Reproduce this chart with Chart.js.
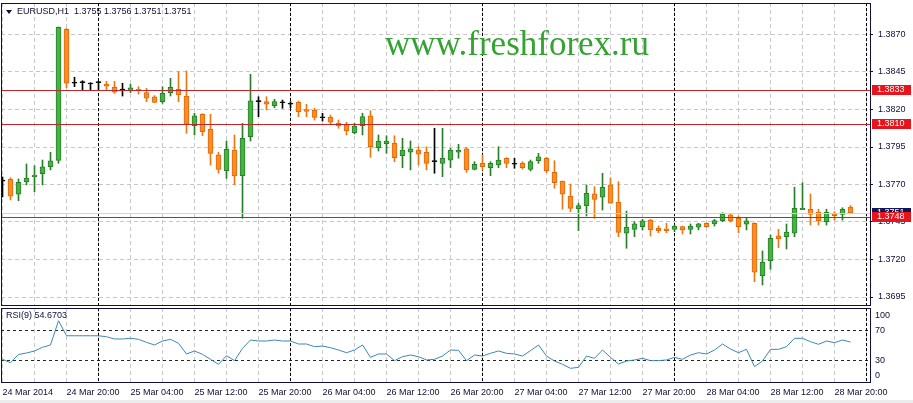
<!DOCTYPE html>
<html>
<head>
<meta charset="utf-8">
<title>EURUSD H1</title>
<script src="https://cdn.jsdelivr.net/npm/chart.js@4.4.1/dist/chart.umd.min.js"></script>
<style>
  html, body { margin: 0; padding: 0; background: #fff; overflow: hidden; }
  #wrap { position: relative; width: 913px; height: 403px; }
  #price { position: absolute; left: 0; top: 0; width: 913px; height: 308px; z-index: 1; }
  #rsi { position: absolute; left: 0; top: 306px; width: 913px; height: 97px; z-index: 2; }
  #foot { position: absolute; left: 0; top: 400px; width: 913px; height: 3px; background: #ececec; z-index: 0; }
</style>
</head>
<body>
<div id="wrap">
  <canvas id="price" width="913" height="308"></canvas>
  <canvas id="rsi" width="913" height="97"></canvas>
  <div id="foot"></div>
</div>
<script>
// hourly bars, 24 Mar 12:00 .. 28 Mar 22:00
const opens = [1.37723, 1.37735, 1.37635, 1.37719, 1.37752, 1.37772, 1.37819, 1.37861, 1.38735, 1.38375,
  1.38379, 1.38370, 1.38379, 1.38370, 1.38348, 1.38330, 1.38325, 1.38335, 1.38312, 1.38285,
  1.38252, 1.38312, 1.38335, 1.38290, 1.38092, 1.38168, 1.38068, 1.37897, 1.37792, 1.37930,
  1.37759, 1.38019, 1.38252, 1.38252, 1.38225, 1.38245, 1.38235, 1.38248, 1.38199, 1.38195,
  1.38145, 1.38148, 1.38108, 1.38097, 1.38045, 1.38092, 1.38157, 1.37945, 1.37972, 1.37975,
  1.37892, 1.37915, 1.37930, 1.37915, 1.37852, 1.37841, 1.37863, 1.37915, 1.37937, 1.37801,
  1.37841, 1.37812, 1.37830, 1.37875, 1.37835, 1.37841, 1.37801, 1.37859, 1.37875, 1.37781,
  1.37723, 1.37623, 1.37537, 1.37559, 1.37637, 1.37615, 1.37697, 1.37583, 1.37375, 1.37401,
  1.37419, 1.37463, 1.37408, 1.37405, 1.37401, 1.37419, 1.37401, 1.37415, 1.37441, 1.37437,
  1.37459, 1.37497, 1.37475, 1.37435, 1.37441, 1.37092, 1.37192, 1.37357, 1.37352, 1.37375,
  1.37532, 1.37535, 1.37515, 1.37452, 1.37505, 1.37501, 1.37550];
const highs = [1.37750, 1.37745, 1.37737, 1.37837, 1.37825, 1.37863, 1.37915, 1.38750, 1.38740, 1.38415,
  1.38392, 1.38379, 1.38388, 1.38388, 1.38388, 1.38375, 1.38368, 1.38352, 1.38341, 1.38293,
  1.38352, 1.38408, 1.38452, 1.38457, 1.38175, 1.38172, 1.38168, 1.37915, 1.37990, 1.38030,
  1.38108, 1.38435, 1.38285, 1.38285, 1.38268, 1.38263, 1.38252, 1.38257, 1.38235, 1.38208,
  1.38175, 1.38163, 1.38130, 1.38115, 1.38108, 1.38175, 1.38192, 1.38030, 1.38025, 1.38025,
  1.38008, 1.37990, 1.37952, 1.37952, 1.38075, 1.38075, 1.37941, 1.37968, 1.37948, 1.37852,
  1.37897, 1.37852, 1.37952, 1.37879, 1.37875, 1.37852, 1.37863, 1.37908, 1.37881, 1.37859,
  1.37723, 1.37703, 1.37575, 1.37697, 1.37685, 1.37775, 1.37745, 1.37719, 1.37523, 1.37452,
  1.37468, 1.37468, 1.37423, 1.37441, 1.37430, 1.37423, 1.37437, 1.37441, 1.37445, 1.37468,
  1.37512, 1.37503, 1.37490, 1.37475, 1.37445, 1.37257, 1.37363, 1.37401, 1.37437, 1.37681,
  1.37712, 1.37637, 1.37535, 1.37535, 1.37519, 1.37545, 1.37560];
const lows = [1.37617, 1.37597, 1.37592, 1.37697, 1.37652, 1.37697, 1.37797, 1.37841, 1.38345, 1.38352,
  1.38330, 1.38330, 1.38330, 1.38330, 1.38308, 1.38290, 1.38312, 1.38303, 1.38252, 1.38245,
  1.38241, 1.38290, 1.38252, 1.38041, 1.38030, 1.38025, 1.37830, 1.37775, 1.37741, 1.37697,
  1.37475, 1.37990, 1.38152, 1.38197, 1.38212, 1.38208, 1.38212, 1.38152, 1.38152, 1.38130,
  1.38123, 1.38101, 1.38075, 1.38030, 1.38037, 1.38030, 1.37881, 1.37923, 1.37908, 1.37852,
  1.37812, 1.37797, 1.37830, 1.37797, 1.37775, 1.37752, 1.37812, 1.37875, 1.37781, 1.37797,
  1.37797, 1.37759, 1.37812, 1.37812, 1.37808, 1.37803, 1.37790, 1.37841, 1.37779, 1.37675,
  1.37535, 1.37519, 1.37392, 1.37490, 1.37475, 1.37530, 1.37575, 1.37352, 1.37275, 1.37352,
  1.37397, 1.37357, 1.37379, 1.37379, 1.37385, 1.37370, 1.37370, 1.37397, 1.37415, 1.37423,
  1.37452, 1.37450, 1.37379, 1.37397, 1.37052, 1.37030, 1.37135, 1.37279, 1.37270, 1.37352,
  1.37532, 1.37430, 1.37430, 1.37430, 1.37463, 1.37463, 1.37510];
const closes = [1.37723, 1.37623, 1.37715, 1.37743, 1.37763, 1.37817, 1.37857, 1.38748, 1.38375, 1.38375,
  1.38379, 1.38370, 1.38379, 1.38355, 1.38315, 1.38330, 1.38345, 1.38325, 1.38275, 1.38248,
  1.38308, 1.38348, 1.38297, 1.38103, 1.38157, 1.38052, 1.37908, 1.37801, 1.37935, 1.37757,
  1.38008, 1.38257, 1.38252, 1.38235, 1.38252, 1.38245, 1.38235, 1.38185, 1.38188, 1.38148,
  1.38145, 1.38115, 1.38090, 1.38057, 1.38090, 1.38152, 1.37952, 1.37990, 1.37990, 1.37879,
  1.37930, 1.37937, 1.37903, 1.37841, 1.37852, 1.37875, 1.37930, 1.37930, 1.37797, 1.37835,
  1.37819, 1.37841, 1.37863, 1.37841, 1.37835, 1.37812, 1.37852, 1.37885, 1.37792, 1.37712,
  1.37635, 1.37541, 1.37559, 1.37641, 1.37601, 1.37681, 1.37575, 1.37381, 1.37415, 1.37437,
  1.37457, 1.37397, 1.37392, 1.37392, 1.37423, 1.37397, 1.37423, 1.37437, 1.37419, 1.37459,
  1.37503, 1.37459, 1.37419, 1.37457, 1.37115, 1.37181, 1.37341, 1.37339, 1.37383, 1.37541,
  1.37541, 1.37501, 1.37459, 1.37515, 1.37492, 1.37535, 1.37510];
const rsiValues = [31.6, 27, 38, 40, 42.7, 47.6, 50.7, 83, 63, 63,
  63, 63, 63, 61.7, 58.7, 58.7, 59.6, 58.2, 54.2, 50.7,
  56, 58.2, 52.9, 38.7, 42.7, 38.2, 31.6, 24.9, 36.4, 29.8,
  46.2, 57.3, 56, 56, 57.3, 56, 56, 52, 52, 48.4,
  49.3, 47.1, 44, 40.4, 44, 50.7, 34.2, 38.7, 38.7, 29.8,
  35.1, 37.3, 35.1, 30.7, 31.6, 36, 44, 43.6, 29.8, 37.3,
  36, 39.6, 42.7, 39.6, 38.7, 36, 43.1, 50.7, 36, 29.3,
  24.9, 19.6, 20.9, 36, 32.9, 44, 34.2, 25.3, 29.3, 30.7,
  32.9, 29.8, 29.8, 30.7, 34.2, 31.6, 37.3, 40.4, 38.7, 44,
  52, 45.3, 40.4, 44.9, 21.8, 29.3, 44.9, 44.9, 48.4, 59.6,
  59.6, 55.1, 51.6, 56, 53.8, 57.3, 54.6703];

const timeLabels = ['24 Mar 2014', '24 Mar 20:00', '25 Mar 04:00', '25 Mar 12:00', '25 Mar 20:00',
  '26 Mar 04:00', '26 Mar 12:00', '26 Mar 20:00', '27 Mar 04:00', '27 Mar 12:00', '27 Mar 20:00',
  '28 Mar 04:00', '28 Mar 12:00', '28 Mar 20:00'];
const priceTicks = [1.3695, 1.3720, 1.3745, 1.3770, 1.3795, 1.3820, 1.3845, 1.3870];
const rsiTicks = [0, 30, 70, 100];
const rsiLevels = [30, 70];
const levels = [1.3833, 1.3810, 1.3748];
const bid = 1.3751;
const daySplits = [12, 36, 60, 84, 108];
const gridSteps = [];
for (let v = 0; v <= 108; v += 4) gridSteps.push(v);

const xMin = -0.1875, xMax = 108.4375;
const priceMin = 1.3689, priceMax = 1.3891;
// MT4 draws the end labels of the RSI scale inside the window
const rsiInset = 9.5;
const rsiPos = v => v === 100 ? 100 - rsiInset : (v === 0 ? rsiInset : v);
const rsiText = p => String(rsiTicks.find(v => rsiPos(v) === p));

const bullFill = '#45b542', bullLine = '#2b7f2b';
const bearFill = '#ff8c22', bearLine = '#dc6a0c';
const gridGray = '#c8c8c8';
const ink = '#0e0e38';

Chart.defaults.font.family = "'Liberation Sans', Arial, sans-serif";
Chart.defaults.font.size = 9;
Chart.defaults.color = ink;

const idx = opens.map((_, i) => i);
const dir = i => closes[i] > opens[i] ? 1 : (closes[i] < opens[i] ? -1 : 0);
const bodyFill = idx.map(i => dir(i) > 0 ? bullFill : dir(i) < 0 ? bearFill : '#000');
const bodyLine = idx.map(i => dir(i) > 0 ? bullLine : dir(i) < 0 ? bearLine : '#000');
const wickColor = idx.map(i => dir(i) > 0 ? bullLine : dir(i) < 0 ? '#e8780f' : '#000');

// chart area is fixed by layout padding only
const noPad = s => { s.paddingTop = 0; s.paddingBottom = 0; s.paddingLeft = 0; s.paddingRight = 0; };

const separators = {
  id: 'separators',
  beforeDatasetsDraw(chart) {
    const {ctx, chartArea: a, scales: {x}} = chart;
    ctx.save();
    ctx.strokeStyle = '#000';
    ctx.lineWidth = 1;
    ctx.setLineDash([3, 2]);
    daySplits.forEach(v => {
      const px = Math.floor(x.getPixelForValue(v)) + 0.5;
      ctx.beginPath();
      ctx.moveTo(px, a.top);
      ctx.lineTo(px, a.bottom);
      ctx.stroke();
    });
    ctx.restore();
  },
  afterDraw(chart) {
    const {ctx, chartArea: a} = chart;
    ctx.save();
    ctx.strokeStyle = '#101040';
    ctx.lineWidth = 1;
    ctx.strokeRect(Math.floor(a.left) + 0.5, Math.floor(a.top) + 0.5,
      Math.round(a.right - a.left), Math.round(a.bottom - a.top) - 1);
    ctx.restore();
  }
};

function tag(ctx, y, text, fill) {
  const yy = Math.round(y);
  ctx.fillStyle = fill;
  ctx.fillRect(872, yy - 5, 39, 10);
  ctx.fillStyle = '#fff';
  ctx.textBaseline = 'middle';
  ctx.textAlign = 'left';
  ctx.fillText(text, 877, yy);
}

const overlay = {
  id: 'overlay',
  beforeDatasetsDraw(chart) {
    const {ctx} = chart;
    ctx.save();
    ctx.font = "35px 'Liberation Serif', serif";
    ctx.fillStyle = '#34a334';
    ctx.textBaseline = 'alphabetic';
    ctx.fillText('www.freshforex.ru', 385, 55);
    ctx.restore();
  },
  afterDatasetsDraw(chart) {
    const {ctx, chartArea: a, scales: {y}} = chart;
    ctx.save();
    ctx.lineWidth = 1;
    ctx.strokeStyle = '#d4d4d4';
    let py = Math.floor(y.getPixelForValue(bid)) + 0.5;
    ctx.beginPath(); ctx.moveTo(a.left, py); ctx.lineTo(a.right, py); ctx.stroke();
    ctx.strokeStyle = '#c0262b';
    levels.forEach(v => {
      py = Math.floor(y.getPixelForValue(v)) + 0.5;
      ctx.beginPath(); ctx.moveTo(a.left, py); ctx.lineTo(a.right, py); ctx.stroke();
    });
    ctx.restore();
  },
  afterDraw(chart) {
    const {ctx, scales: {y}} = chart;
    ctx.save();
    ctx.font = "9px 'Liberation Sans', Arial, sans-serif";
    tag(ctx, y.getPixelForValue(bid), bid.toFixed(4), '#14145a');
    levels.forEach(v => tag(ctx, y.getPixelForValue(v), v.toFixed(4), '#e8141c'));
    // header
    ctx.fillStyle = ink;
    ctx.beginPath();
    ctx.moveTo(6, 10); ctx.lineTo(12, 10); ctx.lineTo(9, 14); ctx.closePath();
    ctx.fill();
    ctx.textBaseline = 'middle';
    ctx.fillText('EURUSD,H1  ' + [opens[106], highs[106], lows[106], closes[106]].map(v => v.toFixed(4)).join(' '), 17, 12);
    ctx.restore();
  }
};

new Chart(document.getElementById('price'), {
  type: 'bar',
  data: {
    datasets: [{
      label: 'body',
      order: 0,
      data: idx.map(i => ({x: i, y: [opens[i], closes[i]]})),
      backgroundColor: bodyFill,
      borderColor: bodyLine,
      borderWidth: 1,
      borderSkipped: false,
      barThickness: 5,
      grouped: false,
      minBarLength: 1
    }, {
      label: 'wick',
      order: 1,
      data: idx.map(i => ({x: i, y: [lows[i], highs[i]]})),
      backgroundColor: wickColor,
      borderWidth: 0,
      barThickness: 1,
      grouped: false
    }]
  },
  options: {
    responsive: false,
    devicePixelRatio: 1,
    animation: false,
    layout: { padding: { left: 1, top: 3, right: 0, bottom: 2 } },
    plugins: { legend: { display: false }, tooltip: { enabled: false } },
    scales: {
      x: {
        type: 'linear', min: xMin, max: xMax, offset: false,
        afterBuildTicks: s => { s.ticks = gridSteps.map(v => ({value: v})); },
        afterFit: s => { s.height = 0; noPad(s); },
        ticks: { display: false },
        grid: { color: gridGray, drawTicks: false, offset: false },
        border: { display: false, dash: [4, 3] }
      },
      y: {
        position: 'right', min: priceMin, max: priceMax,
        afterBuildTicks: s => { s.ticks = priceTicks.map(v => ({value: v})); },
        afterFit: s => { s.width = 43; noPad(s); },
        ticks: { padding: 5, autoSkip: false, callback: v => v.toFixed(4) },
        grid: { color: gridGray, tickColor: ink, tickLength: 3, tickBorderDash: [] },
        border: { display: false, dash: [4, 3] }
      }
    }
  },
  plugins: [separators, overlay]
});

const rsiLabel = {
  id: 'rsiLabel',
  afterDraw(chart) {
    const {ctx} = chart;
    ctx.save();
    ctx.font = "9px 'Liberation Sans', Arial, sans-serif";
    ctx.fillStyle = ink;
    ctx.textBaseline = 'middle';
    ctx.fillText('RSI(9) ' + rsiValues[rsiValues.length - 1].toFixed(4), 6, 10);
    ctx.restore();
  }
};

new Chart(document.getElementById('rsi'), {
  type: 'line',
  data: {
    datasets: [{
      label: 'RSI(9)',
      data: idx.map(i => ({x: i, y: rsiValues[i]})),
      borderColor: '#3a88b6',
      borderWidth: 1,
      pointRadius: 0,
      tension: 0,
      fill: false
    }]
  },
  options: {
    responsive: false,
    devicePixelRatio: 1,
    animation: false,
    layout: { padding: { left: 1, top: 2, right: 0, bottom: 0 } },
    plugins: { legend: { display: false }, tooltip: { enabled: false } },
    scales: {
      x: {
        type: 'linear', min: xMin, max: xMax, offset: false,
        afterBuildTicks: s => { s.ticks = gridSteps.map(v => ({value: v})); },
        afterFit: s => { s.height = 20; noPad(s); },
        ticks: {
          autoSkip: false, maxRotation: 0, align: 'start', padding: 4,
          callback: v => v % 8 === 0 ? timeLabels[v / 8] : ''
        },
        grid: { color: gridGray, drawTicks: false, offset: false },
        border: { display: false, dash: [4, 3] }
      },
      y: {
        position: 'right', min: 0, max: 100,
        afterBuildTicks: s => { s.ticks = rsiTicks.map(v => ({value: rsiPos(v)})); },
        afterFit: s => { s.width = 43; noPad(s); },
        ticks: {
          padding: 5,
          autoSkip: false,
          z: 1,
          callback: v => rsiText(v)
        },
        grid: {
          color: c => (c.tick && rsiLevels.includes(c.tick.value)) ? '#1e2a1e' : 'transparent',
          drawTicks: false
        },
        border: { display: false, dash: [3, 3] }
      }
    }
  },
  plugins: [separators, rsiLabel]
});
</script>
</body>
</html>
